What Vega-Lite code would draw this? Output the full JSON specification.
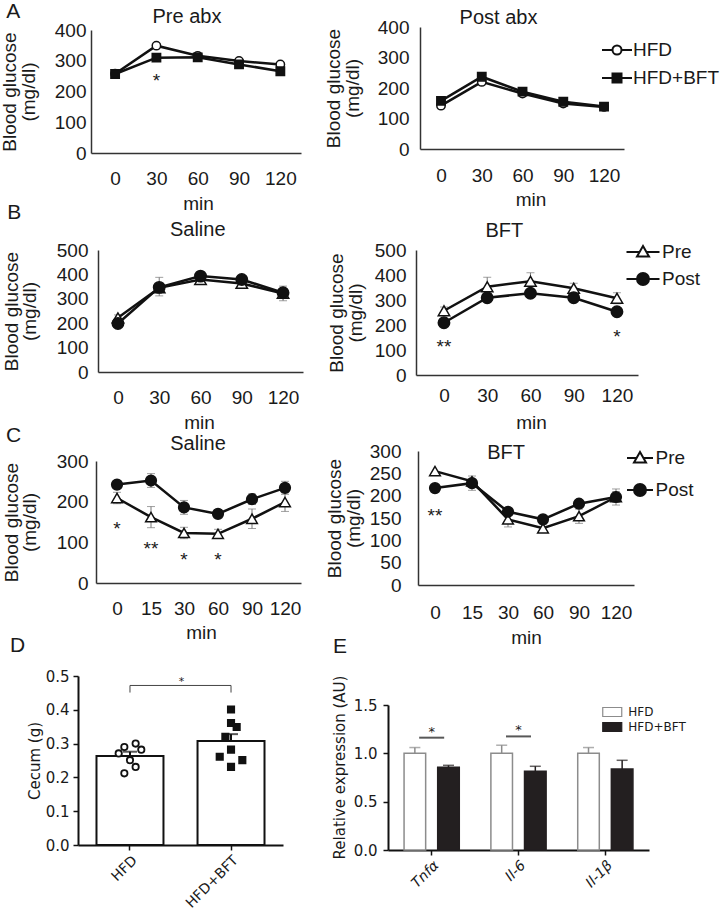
{
"$schema": "https://vega.github.io/schema/vega-lite/v6.json",
"background": "white",
"padding": {"left": 0, "top": 1, "right": 0, "bottom": 4},
"autosize": {"type": "pad"},
"columns": 2,
"spacing": {"row": 76, "column": 85},
"bounds": "flush",
"resolve": {
  "scale": {"shape": "independent", "fill": "independent", "stroke": "independent", "color": "independent", "size": "independent", "xOffset": "independent"},
  "legend": {"shape": "independent", "fill": "independent", "stroke": "independent", "color": "independent", "size": "independent"}
},
"concat": [
{
  "width": 225, "height": 126,
  "data": {"values": [
    {"min": 0, "group": "HFD", "glucose": 258}, {"min": 30, "group": "HFD", "glucose": 349}, {"min": 60, "group": "HFD", "glucose": 316}, {"min": 90, "group": "HFD", "glucose": 299}, {"min": 120, "group": "HFD", "glucose": 288},
    {"min": 0, "group": "HFD+BFT", "glucose": 257}, {"min": 30, "group": "HFD+BFT", "glucose": 310}, {"min": 60, "group": "HFD+BFT", "glucose": 311}, {"min": 90, "group": "HFD+BFT", "glucose": 288}, {"min": 120, "group": "HFD+BFT", "glucose": 266}
  ]},
  "encoding": {
    "x": {"field": "min", "type": "quantitative", "scale": {"domain": [-17.5, 135], "range": [13, 223], "nice": false, "zero": false},
          "axis": {"values": [0, 30, 60, 90, 120], "title": "min", "labelPadding": 16, "titleX": 120, "titleY": 56, "titleBaseline": "alphabetic"}},
    "y": {"field": "glucose", "type": "quantitative", "scale": {"domain": [0, 400], "range": [126, 3], "nice": false, "zero": false},
          "axis": {"values": [0, 100, 200, 300, 400], "title": ["Blood glucose", "(mg/dl)"], "labelPadding": 5, "offset": -13, "titleX": -75.5, "titleBaseline": "alphabetic", "titleLineHeight": 19}}
  },
  "layer": [
    {"mark": {"type": "line", "stroke": "#111111", "strokeWidth": 2.5}, "encoding": {"detail": {"field": "group"}}},
    {"mark": {"type": "point", "filled": true, "stroke": "#111111", "strokeWidth": 1.5, "size": 70, "opacity": 1},
     "encoding": {
       "shape": {"field": "group", "type": "nominal", "scale": {"domain": ["HFD", "HFD+BFT"], "range": ["circle", "square"]}, "legend": null},
       "fill": {"field": "group", "type": "nominal", "scale": {"domain": ["HFD", "HFD+BFT"], "range": ["white", "#111111"]}, "legend": null}}},
    {"data": {"values": [
       {"min": -74, "glucose": 439, "label": "A", "kind": "letter"},
       {"min": 52.2, "glucose": 423, "label": "Pre abx", "kind": "title"},
       {"min": 30, "glucose": 215, "label": "*", "kind": "star"}]},
     "mark": {"type": "text", "font": "Liberation Sans", "baseline": "alphabetic", "align": "center", "color": "#1a1a1a"},
     "encoding": {"text": {"field": "label"}, "size": {"field": "kind", "type": "nominal", "scale": {"domain": ["letter", "title", "star"], "range": [21, 19, 17]}, "legend": null}}}
  ]
},
{
  "width": 261, "height": 126,
  "resolve": {"scale": {"shape": "independent", "fill": "independent"}},
  "data": {"values": [
    {"min": 0, "group": "HFD", "glucose": 142}, {"min": 30, "group": "HFD", "glucose": 220}, {"min": 60, "group": "HFD", "glucose": 182}, {"min": 90, "group": "HFD", "glucose": 149}, {"min": 120, "group": "HFD", "glucose": 138},
    {"min": 0, "group": "HFD+BFT", "glucose": 158}, {"min": 30, "group": "HFD+BFT", "glucose": 237}, {"min": 60, "group": "HFD+BFT", "glucose": 188}, {"min": 90, "group": "HFD+BFT", "glucose": 155}, {"min": 120, "group": "HFD+BFT", "glucose": 139}
  ]},
  "encoding": {
    "x": {"field": "min", "type": "quantitative", "scale": {"domain": [-15.46, 134.7], "range": [32, 236], "nice": false, "zero": false},
          "axis": {"values": [0, 30, 60, 90, 120], "title": "min", "labelPadding": 17, "offset": -4, "titleX": 142.5, "titleY": 56, "titleBaseline": "alphabetic"}},
    "y": {"field": "glucose", "type": "quantitative", "scale": {"domain": [0, 400], "range": [122, 0], "nice": false, "zero": false},
          "axis": {"values": [0, 100, 200, 300, 400], "title": ["Blood glucose", "(mg/dl)"], "labelPadding": 11, "offset": -32, "titleX": -81, "titleBaseline": "alphabetic", "titleLineHeight": 19}}
  },
  "layer": [
    {"mark": {"type": "line", "stroke": "#111111", "strokeWidth": 2.5}, "encoding": {"detail": {"field": "group"}}},
    {"mark": {"type": "point", "filled": true, "stroke": "#111111", "strokeWidth": 1.5, "size": 70, "opacity": 1},
     "encoding": {
       "shape": {"field": "group", "type": "nominal", "scale": {"domain": ["HFD", "HFD+BFT"], "range": ["circle", "square"]}, "legend": null},
       "fill": {"field": "group", "type": "nominal", "scale": {"domain": ["HFD", "HFD+BFT"], "range": ["white", "#111111"]}, "legend": null}}},
    {"data": {"values": []},
     "mark": {"type": "point", "filled": false, "stroke": "#111111", "strokeWidth": 2, "size": 100, "opacity": 1},
     "encoding": {
       "shape": {"field": "group", "type": "nominal", "scale": {"domain": ["HFD", "HFD+BFT"], "range": ["M-3,0H-0.9M0.9,0H3M0.9,0A0.9,0.9,0,1,1,-0.9,0A0.9,0.9,0,1,1,0.9,0Z", "M-3,0H3M-0.9,-0.9H0.9V0.9H-0.9Z"]},
                 "legend": {"orient": "none", "direction": "vertical", "legendX": 219.5, "legendY": 13.5, "title": null, "padding": 0,
                            "labelFont": "Liberation Sans", "labelFontSize": 19, "labelColor": "#1a1a1a", "labelOffset": 6.5, "rowPadding": 8, "symbolSize": 100, "symbolStrokeWidth": 2}},
       "fill": {"field": "group", "type": "nominal", "scale": {"domain": ["HFD", "HFD+BFT"], "range": ["white", "#111111"]},
                "legend": {"orient": "none", "direction": "vertical", "legendX": 219.5, "legendY": 13.5, "title": null, "padding": 0,
                           "labelFont": "Liberation Sans", "labelFontSize": 19, "labelColor": "#1a1a1a", "labelOffset": 6.5, "rowPadding": 8, "symbolSize": 100, "symbolStrokeWidth": 2}}}},
    {"data": {"values": [
       {"min": 42.3, "glucose": 411, "label": "Post abx", "kind": "title"}]},
     "mark": {"type": "text", "font": "Liberation Sans", "baseline": "alphabetic", "align": "center", "color": "#1a1a1a"},
     "encoding": {"text": {"field": "label"}, "size": {"field": "kind", "type": "nominal", "scale": {"domain": ["letter", "title", "star"], "range": [21, 19, 17]}, "legend": null}}}
  ]
},
{
  "width": 225, "height": 146,
  "data": {"values": [
    {"min": 0, "group": "Pre", "glucose": 222}, {"min": 30, "group": "Pre", "glucose": 345}, {"min": 60, "group": "Pre", "glucose": 379}, {"min": 90, "group": "Pre", "glucose": 363}, {"min": 120, "group": "Pre", "glucose": 322},
    {"min": 0, "group": "Post", "glucose": 199}, {"min": 30, "group": "Post", "glucose": 347}, {"min": 60, "group": "Post", "glucose": 393}, {"min": 90, "group": "Post", "glucose": 379}, {"min": 120, "group": "Post", "glucose": 325}
  ]},
  "encoding": {
    "x": {"field": "min", "type": "quantitative", "scale": {"domain": [-14.5, 134.5], "range": [20, 225], "nice": false, "zero": false},
          "axis": {"values": [0, 30, 60, 90, 120], "title": "min", "labelPadding": 16, "offset": -3, "titleX": 121, "titleY": 56.7, "titleBaseline": "alphabetic"}},
    "y": {"field": "glucose", "type": "quantitative", "scale": {"domain": [0, 500], "range": [143, 21], "nice": false, "zero": false},
          "axis": {"values": [0, 100, 200, 300, 400, 500], "title": ["Blood glucose", "(mg/dl)"], "labelPadding": 10, "offset": -20, "titleX": -81, "titleBaseline": "alphabetic", "titleLineHeight": 18}}
  },
  "layer": [
    {"data": {"values": [
       {"min": 0, "lo": 210, "hi": 234}, {"min": 30, "lo": 312, "hi": 388}, {"min": 60, "lo": 362, "hi": 396}, {"min": 90, "lo": 345, "hi": 381}, {"min": 120, "lo": 292, "hi": 352}]},
     "layer": [
       {"mark": {"type": "rule", "color": "#777777", "strokeWidth": 1}, "encoding": {"y": {"field": "lo", "type": "quantitative"}, "y2": {"field": "hi"}}},
       {"mark": {"type": "tick", "orient": "horizontal", "color": "#777777", "size": 8, "thickness": 1}, "encoding": {"y": {"field": "lo", "type": "quantitative"}}},
       {"mark": {"type": "tick", "orient": "horizontal", "color": "#777777", "size": 8, "thickness": 1}, "encoding": {"y": {"field": "hi", "type": "quantitative"}}}
     ]},
    {"mark": {"type": "line", "stroke": "#111111", "strokeWidth": 2.5}, "encoding": {"detail": {"field": "group"}}},
    {"mark": {"type": "point", "filled": true, "stroke": "#111111", "strokeWidth": 1.5, "size": 130, "opacity": 1},
     "encoding": {
       "shape": {"field": "group", "type": "nominal", "scale": {"domain": ["Pre", "Post"], "range": ["triangle-up", "circle"]}, "legend": null},
       "fill": {"field": "group", "type": "nominal", "scale": {"domain": ["Pre", "Post"], "range": ["white", "#111111"]}, "legend": null}}},
    {"data": {"values": [
       {"min": -75.4, "glucose": 628, "label": "B", "kind": "letter"},
       {"min": 58, "glucose": 556, "label": "Saline", "kind": "title"}]},
     "mark": {"type": "text", "font": "Liberation Sans", "baseline": "alphabetic", "align": "center", "color": "#1a1a1a"},
     "encoding": {"text": {"field": "label"}, "size": {"field": "kind", "type": "nominal", "scale": {"domain": ["letter", "title", "star"], "range": [21, 19, 17]}, "legend": null}}}
  ]
},
{
  "width": 261, "height": 146,
  "resolve": {"scale": {"shape": "independent", "fill": "independent"}},
  "data": {"values": [
    {"min": 0, "group": "Pre", "glucose": 257}, {"min": 30, "group": "Pre", "glucose": 353}, {"min": 60, "group": "Pre", "glucose": 375}, {"min": 90, "group": "Pre", "glucose": 347}, {"min": 120, "group": "Pre", "glucose": 307},
    {"min": 0, "group": "Post", "glucose": 209}, {"min": 30, "group": "Post", "glucose": 309}, {"min": 60, "group": "Post", "glucose": 327}, {"min": 90, "group": "Post", "glucose": 309}, {"min": 120, "group": "Post", "glucose": 253}
  ]},
  "encoding": {
    "x": {"field": "min", "type": "quantitative", "scale": {"domain": [-19.4, 134.6], "range": [28, 250], "nice": false, "zero": false},
          "axis": {"values": [0, 30, 60, 90, 120], "title": "min", "labelPadding": 11, "titleX": 143, "titleY": 53.7, "titleBaseline": "alphabetic"}},
    "y": {"field": "glucose", "type": "quantitative", "scale": {"domain": [0, 500], "range": [146, 21], "nice": false, "zero": false},
          "axis": {"values": [0, 100, 200, 300, 400, 500], "title": ["Blood glucose", "(mg/dl)"], "labelPadding": 10, "offset": -28, "titleX": -74, "titleBaseline": "alphabetic", "titleLineHeight": 19}}
  },
  "layer": [
    {"data": {"values": [
       {"min": 0, "lo": 242, "hi": 272}, {"min": 30, "lo": 315, "hi": 391}, {"min": 60, "lo": 341, "hi": 409}, {"min": 90, "lo": 327, "hi": 367}, {"min": 120, "lo": 285, "hi": 329}]},
     "layer": [
       {"mark": {"type": "rule", "color": "#777777", "strokeWidth": 1}, "encoding": {"y": {"field": "lo", "type": "quantitative"}, "y2": {"field": "hi"}}},
       {"mark": {"type": "tick", "orient": "horizontal", "color": "#777777", "size": 8, "thickness": 1}, "encoding": {"y": {"field": "lo", "type": "quantitative"}}},
       {"mark": {"type": "tick", "orient": "horizontal", "color": "#777777", "size": 8, "thickness": 1}, "encoding": {"y": {"field": "hi", "type": "quantitative"}}}
     ]},
    {"mark": {"type": "line", "stroke": "#111111", "strokeWidth": 2.5}, "encoding": {"detail": {"field": "group"}}},
    {"mark": {"type": "point", "filled": true, "stroke": "#111111", "strokeWidth": 1.5, "size": 130, "opacity": 1},
     "encoding": {
       "shape": {"field": "group", "type": "nominal", "scale": {"domain": ["Pre", "Post"], "range": ["triangle-up", "circle"]}, "legend": null},
       "fill": {"field": "group", "type": "nominal", "scale": {"domain": ["Pre", "Post"], "range": ["white", "#111111"]}, "legend": null}}},
    {"data": {"values": []},
     "mark": {"type": "point", "filled": false, "stroke": "#111111", "strokeWidth": 2, "size": 100, "opacity": 1},
     "encoding": {
       "shape": {"field": "group", "type": "nominal", "scale": {"domain": ["Pre", "Post"], "range": ["M-3.3,0H-0.75M0.75,0H3.3M0,-1.2L1.2,0.9L-1.2,0.9Z", "M-3.3,0H3.3M1.2,0A1.2,1.2,0,1,1,-1.2,0A1.2,1.2,0,1,1,1.2,0Z"]},
                 "legend": {"orient": "none", "direction": "vertical", "legendX": 245.5, "legendY": 13.5, "title": null, "padding": 0,
                            "labelFont": "Liberation Sans", "labelFontSize": 19, "labelColor": "#1a1a1a", "labelOffset": 9.5, "rowPadding": 6, "symbolSize": 100, "symbolStrokeWidth": 2}},
       "fill": {"field": "group", "type": "nominal", "scale": {"domain": ["Pre", "Post"], "range": ["white", "#111111"]},
                "legend": {"orient": "none", "direction": "vertical", "legendX": 245.5, "legendY": 13.5, "title": null, "padding": 0,
                           "labelFont": "Liberation Sans", "labelFontSize": 19, "labelColor": "#1a1a1a", "labelOffset": 9.5, "rowPadding": 6, "symbolSize": 100, "symbolStrokeWidth": 2}}}},
    {"data": {"values": [
       {"min": 41.9, "glucose": 552, "label": "BFT", "kind": "title"},
       {"min": 0, "glucose": 88, "label": "**", "kind": "star"},
       {"min": 120, "glucose": 128, "label": "*", "kind": "star"}]},
     "mark": {"type": "text", "font": "Liberation Sans", "baseline": "alphabetic", "align": "center", "color": "#1a1a1a"},
     "encoding": {"text": {"field": "label"}, "size": {"field": "kind", "type": "nominal", "scale": {"domain": ["letter", "title", "star"], "range": [21, 19, 17]}, "legend": null}}}
  ]
},
{
  "width": 225, "height": 134,
  "data": {"values": [
    {"min": 0, "group": "Pre", "glucose": 209}, {"min": 15, "group": "Pre", "glucose": 162}, {"min": 30, "group": "Pre", "glucose": 123}, {"min": 60, "group": "Pre", "glucose": 121}, {"min": 90, "group": "Pre", "glucose": 158}, {"min": 120, "group": "Pre", "glucose": 199},
    {"min": 0, "group": "Post", "glucose": 242}, {"min": 15, "group": "Post", "glucose": 252}, {"min": 30, "group": "Post", "glucose": 186}, {"min": 60, "group": "Post", "glucose": 170}, {"min": 90, "group": "Post", "glucose": 206}, {"min": 120, "group": "Post", "glucose": 234}
  ]},
  "encoding": {
    "x": {"field": "min", "type": "quantitative", "scale": {"domain": [-10, 0, 15, 30, 60, 90, 120, 130], "range": [18, 39, 73, 106, 140, 174, 207, 223], "nice": false, "zero": false},
          "axis": {"values": [0, 15, 30, 60, 90, 120], "title": "min", "labelPadding": 16, "offset": -2, "titleX": 123, "titleY": 55, "titleBaseline": "alphabetic"}},
    "y": {"field": "glucose", "type": "quantitative", "scale": {"domain": [0, 300], "range": [132, 10], "nice": false, "zero": false},
          "axis": {"values": [0, 100, 200, 300], "title": ["Blood glucose", "(mg/dl)"], "labelPadding": 8, "offset": -18, "titleX": -79, "titleBaseline": "alphabetic", "titleLineHeight": 18}}
  },
  "layer": [
    {"data": {"values": [
       {"min": 0, "lo": 234, "hi": 250}, {"min": 15, "lo": 235, "hi": 269}, {"min": 30, "lo": 169, "hi": 203}, {"min": 60, "lo": 162, "hi": 178}, {"min": 90, "lo": 193, "hi": 219}, {"min": 120, "lo": 218, "hi": 250},
       {"min": 0, "lo": 195, "hi": 223}, {"min": 15, "lo": 136, "hi": 188}, {"min": 30, "lo": 109, "hi": 137}, {"min": 60, "lo": 110, "hi": 132}, {"min": 90, "lo": 134, "hi": 182}, {"min": 120, "lo": 176, "hi": 222}]},
     "layer": [
       {"mark": {"type": "rule", "color": "#777777", "strokeWidth": 1}, "encoding": {"y": {"field": "lo", "type": "quantitative"}, "y2": {"field": "hi"}}},
       {"mark": {"type": "tick", "orient": "horizontal", "color": "#777777", "size": 8, "thickness": 1}, "encoding": {"y": {"field": "lo", "type": "quantitative"}}},
       {"mark": {"type": "tick", "orient": "horizontal", "color": "#777777", "size": 8, "thickness": 1}, "encoding": {"y": {"field": "hi", "type": "quantitative"}}}
     ]},
    {"mark": {"type": "line", "stroke": "#111111", "strokeWidth": 2.5}, "encoding": {"detail": {"field": "group"}}},
    {"mark": {"type": "point", "filled": true, "stroke": "#111111", "strokeWidth": 1.5, "size": 115, "opacity": 1},
     "encoding": {
       "shape": {"field": "group", "type": "nominal", "scale": {"domain": ["Pre", "Post"], "range": ["triangle-up", "circle"]}, "legend": null},
       "fill": {"field": "group", "type": "nominal", "scale": {"domain": ["Pre", "Post"], "range": ["white", "#111111"]}, "legend": null}}},
    {"data": {"values": [
       {"min": -49.3, "glucose": 346.7, "label": "C", "kind": "letter"},
       {"min": 42.4, "glucose": 326.3, "label": "Saline", "kind": "title"},
       {"min": -47.4, "glucose": -169.7, "label": "D", "kind": "letter"},
       {"min": 0, "glucose": 118, "label": "*", "kind": "star"},
       {"min": 15, "glucose": 69, "label": "**", "kind": "star"},
       {"min": 30, "glucose": 42, "label": "*", "kind": "star"},
       {"min": 60, "glucose": 42, "label": "*", "kind": "star"}]},
     "mark": {"type": "text", "font": "Liberation Sans", "baseline": "alphabetic", "align": "center", "color": "#1a1a1a"},
     "encoding": {"text": {"field": "label"}, "size": {"field": "kind", "type": "nominal", "scale": {"domain": ["letter", "title", "star"], "range": [21, 19, 17]}, "legend": null}}}
  ]
},
{
  "width": 261, "height": 134,
  "resolve": {"scale": {"shape": "independent", "fill": "independent"}},
  "data": {"values": [
    {"min": 0, "group": "Pre", "glucose": 255}, {"min": 15, "group": "Pre", "glucose": 232}, {"min": 30, "group": "Pre", "glucose": 147}, {"min": 60, "group": "Pre", "glucose": 127}, {"min": 90, "group": "Pre", "glucose": 154}, {"min": 120, "group": "Pre", "glucose": 197},
    {"min": 0, "group": "Post", "glucose": 217}, {"min": 15, "group": "Post", "glucose": 228}, {"min": 30, "group": "Post", "glucose": 164}, {"min": 60, "group": "Post", "glucose": 147}, {"min": 90, "group": "Post", "glucose": 182}, {"min": 120, "group": "Post", "glucose": 197}
  ]},
  "encoding": {
    "x": {"field": "min", "type": "quantitative", "scale": {"domain": [-10, 0, 15, 30, 60, 90, 120, 130], "range": [30, 47, 84, 120, 155, 191, 228, 246], "nice": false, "zero": false},
          "axis": {"values": [0, 15, 30, 60, 90, 120], "title": "min", "labelPadding": 18, "titleX": 138, "titleY": 58.7, "titleBaseline": "alphabetic"}},
    "y": {"field": "glucose", "type": "quantitative", "scale": {"domain": [0, 300], "range": [134, 0], "nice": false, "zero": false},
          "axis": {"values": [0, 50, 100, 150, 200, 250, 300], "title": ["Blood glucose", "(mg/dl)"], "labelPadding": 17, "offset": -30, "titleX": -78, "titleBaseline": "alphabetic", "titleLineHeight": 19}}
  },
  "layer": [
    {"data": {"values": [
       {"min": 30, "lo": 130, "hi": 164}, {"min": 60, "lo": 119, "hi": 135}, {"min": 90, "lo": 138, "hi": 170}, {"min": 120, "lo": 179, "hi": 215},
       {"min": 15, "lo": 212, "hi": 244}, {"min": 120, "lo": 185, "hi": 209}]},
     "layer": [
       {"mark": {"type": "rule", "color": "#777777", "strokeWidth": 1}, "encoding": {"y": {"field": "lo", "type": "quantitative"}, "y2": {"field": "hi"}}},
       {"mark": {"type": "tick", "orient": "horizontal", "color": "#777777", "size": 8, "thickness": 1}, "encoding": {"y": {"field": "lo", "type": "quantitative"}}},
       {"mark": {"type": "tick", "orient": "horizontal", "color": "#777777", "size": 8, "thickness": 1}, "encoding": {"y": {"field": "hi", "type": "quantitative"}}}
     ]},
    {"mark": {"type": "line", "stroke": "#111111", "strokeWidth": 2.5}, "encoding": {"detail": {"field": "group"}}},
    {"mark": {"type": "point", "filled": true, "stroke": "#111111", "strokeWidth": 1.5, "size": 115, "opacity": 1},
     "encoding": {
       "shape": {"field": "group", "type": "nominal", "scale": {"domain": ["Pre", "Post"], "range": ["triangle-up", "circle"]}, "legend": null},
       "fill": {"field": "group", "type": "nominal", "scale": {"domain": ["Pre", "Post"], "range": ["white", "#111111"]}, "legend": null}}},
    {"data": {"values": []},
     "mark": {"type": "point", "filled": false, "stroke": "#111111", "strokeWidth": 2, "size": 100, "opacity": 1},
     "encoding": {
       "shape": {"field": "group", "type": "nominal", "scale": {"domain": ["Pre", "Post"], "range": ["M-2.6,0H-0.75M0.75,0H2.6M0,-1.2L1.2,0.9L-1.2,0.9Z", "M-2.6,0H2.6M1.2,0A1.2,1.2,0,1,1,-1.2,0A1.2,1.2,0,1,1,1.2,0Z"]},
                 "legend": {"orient": "none", "direction": "vertical", "legendX": 242.5, "legendY": -2.5, "title": null, "padding": 0,
                            "labelFont": "Liberation Sans", "labelFontSize": 19, "labelColor": "#1a1a1a", "labelOffset": 6, "rowPadding": 11, "symbolSize": 100, "symbolStrokeWidth": 2}},
       "fill": {"field": "group", "type": "nominal", "scale": {"domain": ["Pre", "Post"], "range": ["white", "#111111"]},
                "legend": {"orient": "none", "direction": "vertical", "legendX": 242.5, "legendY": -2.5, "title": null, "padding": 0,
                           "labelFont": "Liberation Sans", "labelFontSize": 19, "labelColor": "#1a1a1a", "labelOffset": 6, "rowPadding": 11, "symbolSize": 100, "symbolStrokeWidth": 2}}}},
    {"data": {"values": [
       {"min": 29.2, "glucose": 282, "label": "BFT", "kind": "title"},
       {"min": -55.9, "glucose": -152.2, "label": "E", "kind": "letter"},
       {"min": 0, "glucose": 141, "label": "**", "kind": "star"}]},
     "mark": {"type": "text", "font": "Liberation Sans", "baseline": "alphabetic", "align": "center", "color": "#1a1a1a"},
     "encoding": {"text": {"field": "label"}, "size": {"field": "kind", "type": "nominal", "scale": {"domain": ["letter", "title", "star"], "range": [21, 19, 17]}, "legend": null}}}
  ]
},
{
  "width": 225, "height": 189,
  "resolve": {"scale": {"xOffset": "independent"}},
  "encoding": {
    "x": {"field": "group", "type": "nominal", "scale": {"type": "band", "domain": ["HFD", "HFD+BFT"], "range": [0, 205], "paddingInner": 0.337, "paddingOuter": 0.183},
          "axis": {"title": null, "labelAngle": -45, "labelFont": "DejaVu Sans", "labelFontSize": 14, "ticks": true, "tickSize": 5, "tickWidth": 1.5, "tickColor": "#111111", "domainColor": "#111111", "domainWidth": 2, "labelPadding": 3, "offset": -5, "labelOverlap": false}},
    "y": {"field": "cecum", "type": "quantitative", "scale": {"domain": [0, 0.5], "range": [184, 15], "nice": false, "zero": false},
          "axis": {"values": [0, 0.1, 0.2, 0.3, 0.4, 0.5], "tickCount": 6, "format": ".1f", "title": "Cecum (g)", "titleFont": "DejaVu Sans", "titleFontSize": 15, "titleX": -39, "titleBaseline": "alphabetic",
                   "labelFont": "DejaVu Sans", "labelFontSize": 15, "ticks": true, "tickSize": 5, "tickWidth": 1.5, "tickColor": "#111111", "domainColor": "#111111", "domainWidth": 2, "labelPadding": 4, "labelOverlap": false}}
  },
  "layer": [
    {"data": {"values": [{"group": "HFD", "cecum": 0.263, "err": 0.276}, {"group": "HFD+BFT", "cecum": 0.308, "err": 0.328}]},
     "layer": [
       {"mark": {"type": "bar", "fill": "white", "stroke": "#111111", "strokeWidth": 2}},
       {"mark": {"type": "rule", "color": "#111111", "strokeWidth": 2}, "encoding": {"y2": {"field": "err"}}},
       {"mark": {"type": "tick", "orient": "horizontal", "color": "#111111", "size": 14, "thickness": 2}, "encoding": {"y": {"field": "err", "type": "quantitative"}}}
     ]},
    {"data": {"values": [
       {"group": "HFD", "cecum": 0.271, "slot": -2}, {"group": "HFD", "cecum": 0.290, "slot": -1}, {"group": "HFD", "cecum": 0.300, "slot": 1}, {"group": "HFD", "cecum": 0.282, "slot": 2},
       {"group": "HFD", "cecum": 0.251, "slot": 0}, {"group": "HFD", "cecum": 0.231, "slot": 1}, {"group": "HFD", "cecum": 0.212, "slot": -1},
       {"group": "HFD+BFT", "cecum": 0.401, "slot": 0}, {"group": "HFD+BFT", "cecum": 0.361, "slot": 0}, {"group": "HFD+BFT", "cecum": 0.349, "slot": 1}, {"group": "HFD+BFT", "cecum": 0.320, "slot": -1},
       {"group": "HFD+BFT", "cecum": 0.282, "slot": 0}, {"group": "HFD+BFT", "cecum": 0.261, "slot": -2}, {"group": "HFD+BFT", "cecum": 0.251, "slot": 2}, {"group": "HFD+BFT", "cecum": 0.231, "slot": 0}]},
     "mark": {"type": "point", "filled": true, "stroke": "#111111", "strokeWidth": 1.8, "size": 40, "opacity": 1},
     "encoding": {
       "xOffset": {"field": "slot", "type": "quantitative", "scale": {"domain": [-2, 2], "range": [22.2, 44.8]}},
       "shape": {"field": "group", "type": "nominal", "scale": {"domain": ["HFD", "HFD+BFT"], "range": ["circle", "square"]}, "legend": null},
       "fill": {"field": "group", "type": "nominal", "scale": {"domain": ["HFD", "HFD+BFT"], "range": ["white", "#111111"]}, "legend": null}}},
    {"data": {"values": [{"group": "HFD", "lo": 0.451, "hi": 0.472}, {"group": "HFD+BFT", "lo": 0.451, "hi": 0.472}]},
     "mark": {"type": "rule", "color": "#444444", "strokeWidth": 1},
     "encoding": {"y": {"field": "lo", "type": "quantitative"}, "y2": {"field": "hi"}}},
    {"data": {"values": [{"from": "HFD", "to": "HFD+BFT", "level": 0.472}]},
     "mark": {"type": "rule", "color": "#444444", "strokeWidth": 1},
     "encoding": {"x": {"field": "from", "type": "nominal", "bandPosition": 0.5}, "x2": {"field": "to", "bandPosition": 0.5}, "y": {"field": "level", "type": "quantitative"}}},
    {"data": {"values": [{"from": "HFD", "level": 0.474, "label": "*"}]},
     "mark": {"type": "text", "font": "DejaVu Sans", "fontSize": 11, "baseline": "alphabetic", "align": "center", "color": "#1a1a1a"},
     "encoding": {"x": {"field": "from", "type": "nominal", "bandPosition": 1.27}, "y": {"field": "level", "type": "quantitative"}, "text": {"field": "label"}}}
  ]
},
{
  "width": 261, "height": 189,
  "layer": [
    {"data": {"values": [
       {"gene": "Tnfα", "group": "HFD", "expression": 1.0, "err": 1.06}, {"gene": "Tnfα", "group": "HFD+BFT", "expression": 0.855, "err": 0.876},
       {"gene": "Il-6", "group": "HFD", "expression": 1.0, "err": 1.084}, {"gene": "Il-6", "group": "HFD+BFT", "expression": 0.814, "err": 0.866},
       {"gene": "Il-1β", "group": "HFD", "expression": 1.0, "err": 1.06}, {"gene": "Il-1β", "group": "HFD+BFT", "expression": 0.838, "err": 0.928}]},
     "encoding": {
       "x": {"field": "gene", "type": "nominal", "scale": {"type": "band", "domain": ["Tnfα", "Il-6", "Il-1β"], "range": [0, 261], "paddingInner": 0.364, "paddingOuter": 0.185},
             "axis": {"title": null, "labelAngle": -45, "labelFont": "DejaVu Sans", "labelFontSize": 14, "labelFontStyle": "italic", "ticks": true, "tickSize": 5, "tickWidth": 1.5, "tickColor": "#111111", "domainColor": "#111111", "domainWidth": 2, "labelPadding": 3, "labelOverlap": false}},
       "xOffset": {"field": "group", "type": "nominal", "scale": {"domain": ["HFD", "HFD+BFT"], "paddingInner": 0.358, "paddingOuter": 0}},
       "y": {"field": "expression", "type": "quantitative", "scale": {"domain": [0, 1.5], "range": [189, 44], "nice": false, "zero": false},
             "axis": {"values": [0, 0.5, 1, 1.5], "format": ".1f", "title": "Relative expression (AU)", "titleFont": "DejaVu Sans", "titleFontSize": 15, "titleX": -44, "titleY": 106, "titleBaseline": "alphabetic",
                      "labelFont": "DejaVu Sans", "labelFontSize": 15, "ticks": true, "tickSize": 5, "tickWidth": 1.5, "tickColor": "#111111", "domainColor": "#111111", "domainWidth": 2, "labelPadding": 6, "labelOverlap": false}}
     },
     "layer": [
       {"mark": {"type": "bar", "strokeWidth": 1.5},
        "encoding": {
          "fill": {"field": "group", "type": "nominal", "scale": {"domain": ["HFD", "HFD+BFT"], "range": ["white", "#231f20"]},
                   "legend": {"orient": "none", "direction": "vertical", "legendX": 218.25, "legendY": 45, "title": null, "padding": 0,
                              "symbolType": "M-1.9,-0.9H1.9V0.9H-1.9Z", "symbolSize": 100, "symbolStrokeWidth": 1.2, "symbolStrokeColor": "#8c8c8c",
                              "labelFont": "DejaVu Sans", "labelFontSize": 12, "labelColor": "#1a1a1a", "labelOffset": 10, "rowPadding": 1}},
          "stroke": {"field": "group", "type": "nominal", "scale": {"domain": ["HFD", "HFD+BFT"], "range": ["#8c8c8c", "#231f20"]}, "legend": null}}},
       {"mark": {"type": "rule", "strokeWidth": 1.5},
        "encoding": {"y2": {"field": "err"}, "color": {"field": "group", "type": "nominal", "scale": {"domain": ["HFD", "HFD+BFT"], "range": ["#8c8c8c", "#231f20"]}, "legend": null}}},
       {"mark": {"type": "tick", "orient": "horizontal", "size": 11, "thickness": 1.5},
        "encoding": {"y": {"field": "err", "type": "quantitative"}, "color": {"field": "group", "type": "nominal", "scale": {"domain": ["HFD", "HFD+BFT"], "range": ["#8c8c8c", "#231f20"]}, "legend": null}}}
     ]},
    {"data": {"values": [{"gene": "Tnfα", "level": 1.162, "label": "*"}, {"gene": "Il-6", "level": 1.175, "label": "*"}]},
     "layer": [
       {"mark": {"type": "tick", "orient": "horizontal", "color": "#111111", "size": 25, "thickness": 2},
        "encoding": {"x": {"field": "gene", "type": "nominal"}, "y": {"field": "level", "type": "quantitative"}}},
       {"mark": {"type": "text", "font": "DejaVu Sans", "fontSize": 13, "baseline": "alphabetic", "align": "center", "color": "#1a1a1a", "dy": -2},
        "encoding": {"x": {"field": "gene", "type": "nominal"}, "y": {"field": "level", "type": "quantitative"}, "text": {"field": "label"}}}
     ]}
  ]
}
],
"config": {
  "view": {"stroke": null},
  "font": "Liberation Sans",
  "axis": {"grid": false, "ticks": false, "labelFont": "Liberation Sans", "labelFontSize": 19, "labelColor": "#1a1a1a",
           "titleFont": "Liberation Sans", "titleFontSize": 19, "titleFontWeight": "normal", "titleColor": "#1a1a1a",
           "domainColor": "#333333", "domainWidth": 1.5, "labelOverlap": false, "labelFlush": false, "labelBound": false}
}
}
